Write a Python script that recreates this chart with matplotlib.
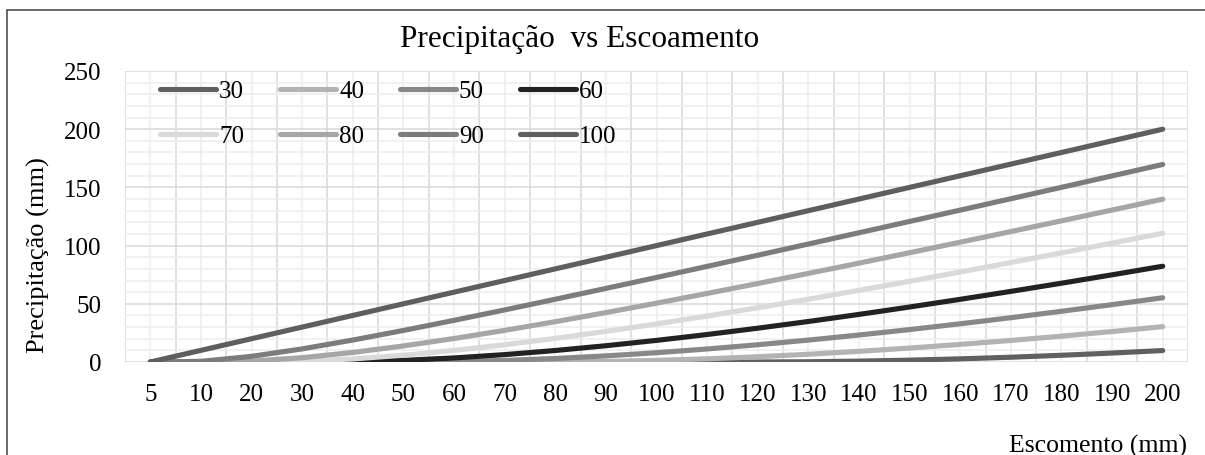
import numpy as np
import matplotlib.pyplot as plt
from matplotlib.patches import Rectangle
from matplotlib.ticker import MultipleLocator, FixedLocator

plt.rcParams['font.family'] = ['Liberation Serif', 'DejaVu Serif']

escoamento = [5, 10, 20, 30, 40, 50, 60, 70, 80, 90, 100,
              110, 120, 130, 140, 150, 160, 170, 180, 190, 200]

cn30 = [0, 0, 0, 0, 0, 0, 0, 0, 0, 0, 0, 0,
        0.00, 0.22, 0.75, 1.59, 2.71, 4.11, 5.78, 7.69, 9.85]
cn40 = [0, 0, 0, 0, 0, 0, 0, 0,
        0.04, 0.48, 1.40, 2.75, 4.52, 6.66, 9.15, 11.98, 15.11, 18.53, 22.22, 26.17, 30.36]
cn50 = [0, 0, 0, 0, 0, 0,
        0.32, 1.35, 3.01, 5.24, 7.98, 11.19, 14.82, 18.83, 23.18, 27.86, 32.83, 38.07,
        43.56, 49.28, 55.21]
cn60 = [0, 0, 0, 0,
        0.21, 1.40, 3.49, 6.35, 9.88, 13.98, 18.57, 23.61, 29.04, 34.81, 40.89, 47.25,
        53.85, 60.67, 67.69, 74.90, 82.27]
cn70 = [0, 0, 0,
        0.58, 2.62, 5.81, 9.94, 14.81, 20.29, 26.29, 32.71, 39.50, 46.59, 53.96, 61.55,
        69.35, 77.33, 85.46, 93.74, 102.14, 110.65]
cn80 = [0, 0,
        0.75, 3.70, 8.21, 13.80, 20.19, 27.18, 34.63, 42.44, 50.54, 58.88, 67.41, 76.10,
        84.93, 93.88, 102.93, 112.06, 121.27, 130.55, 139.88]
cn90 = [0, 0.58, 4.84, 11.28, 18.86, 27.11, 35.78, 44.74, 53.90, 63.21, 72.63, 82.14,
        91.72, 101.35, 111.03, 120.75, 130.50, 140.27, 150.06, 159.88, 169.71]
cn100 = [0, 10, 20, 30, 40, 50, 60, 70, 80, 90, 100,
         110, 120, 130, 140, 150, 160, 170, 180, 190, 200]

series_labels = ['30', '40', '50', '60', '70', '80', '90', '100']
series = [cn30, cn40, cn50, cn60, cn70, cn80, cn90, cn100]
colors = ['#606060', '#b3b3b3', '#888888', '#222222',
          '#d9d9d9', '#a6a6a6', '#7c7c7c', '#5e5e5e']

W, H = 1205, 456
fig = plt.figure(figsize=(W / 100, H / 100), dpi=100)
ax = fig.add_axes([125 / W, 1 - 363 / H, (1188 - 125) / W, (363 - 72) / H])

x = np.arange(len(escoamento))
lines = []
for vals, lab, c in zip(series, series_labels, colors):
    ln, = ax.plot(x, vals, color=c, lw=3.7, label=lab, solid_capstyle='round',
                  solid_joinstyle='round', zorder=3)
    lines.append(ln)

ax.set_xlim(-0.5, len(escoamento) - 0.5)
ax.set_ylim(0, 250)
ax.xaxis.set_major_locator(FixedLocator(x))
ax.set_xticklabels([str(v) for v in escoamento])
ax.xaxis.set_minor_locator(FixedLocator(np.arange(-0.5, len(escoamento), 1.0)))
ax.yaxis.set_major_locator(MultipleLocator(50))
ax.yaxis.set_minor_locator(MultipleLocator(10))

ax.grid(True, axis='x', which='minor', color='#d9d9d9', lw=1.1, zorder=1)
ax.grid(True, axis='x', which='major', color='#eeeeee', lw=1.1, zorder=0)
ax.grid(True, axis='y', which='major', color='#d9d9d9', lw=1.1, zorder=1)
ax.grid(True, axis='y', which='minor', color='#eeeeee', lw=1.1, zorder=0)
ax.set_axisbelow(True)
for s in ax.spines.values():
    s.set_visible(False)

ax.tick_params(axis='both', which='both', length=0, labelsize=18)
ax.tick_params(axis='x', pad=15)
ax.tick_params(axis='y', pad=17)

# legend filled row by row like excel
order = [0, 4, 1, 5, 2, 6, 3, 7]
ax.legend([lines[i] for i in order], [series_labels[i] for i in order],
          loc='upper left', bbox_to_anchor=(160 / W, 1 - 81 / H),
          bbox_transform=fig.transFigure, ncol=4, frameon=False, fontsize=18,
          handlelength=2.24, handletextpad=0.12, columnspacing=1.44,
          labelspacing=0.9, borderpad=0, borderaxespad=0)

fig.text(580 / W, 1 - 47 / H, 'Precipitação  vs Escoamento', ha='center',
         va='baseline', fontsize=22.5)
fig.text(38 / W, 1 - 255 / H, 'Precipitação (mm)', rotation=90, ha='center',
         va='center', fontsize=19)
fig.text(1187 / W, 1 - 446 / H, 'Escomento (mm)', ha='right', va='center',
         fontsize=18.5)

fig.patches.append(Rectangle((7.5 / W, -0.1), 1.2, 1.1 - 10.5 / H,
                             transform=fig.transFigure, fill=False,
                             edgecolor='#404040', lw=1.1))

fig.savefig('out.png', dpi=100)
